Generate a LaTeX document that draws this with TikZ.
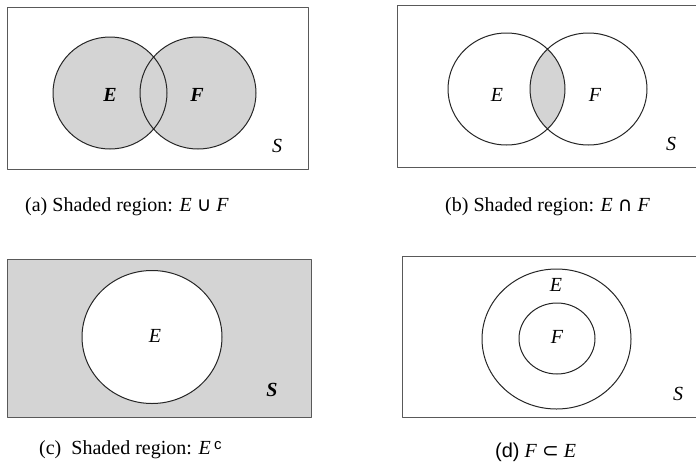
\documentclass[tikz,border=0pt]{standalone}
\usepackage{fontspec}
\setmainfont{Liberation Serif}
\newfontfamily\symfont{DejaVu Sans}
\newfontfamily\capsans{Liberation Sans}
\usetikzlibrary{calc}
\definecolor{venngray}{gray}{0.83}
\definecolor{frameline}{gray}{0.35}

\tikzset{
 frame/.style={draw=frameline,line width=.9pt},
 vennset/.style={draw=black!85,line width=1pt},
 setlabel/.style={font=\fontsize{20}{24}\selectfont\itshape,inner sep=0pt},
 boldlabel/.style={setlabel,font=\fontsize{20}{24}\selectfont\bfseries\itshape},
 caption/.style={font=\fontsize{20}{24}\selectfont,inner sep=0pt,anchor=west}
}

\begin{document}
\begin{tikzpicture}[x=1pt,y=-1pt,line cap=round,line join=round]
 \useasboundingbox (0,0) rectangle (696,464);
 \clip (0,0) rectangle (696,464);
 % (a) union
 \coordinate (aE) at (110,93);
 \coordinate (aF) at (198,93);
 \fill[venngray] (aE) circle[x radius=57pt,y radius=56pt]
  (aF) circle[x radius=58pt,y radius=56pt];
 \draw[frame] (7,7) rectangle (308,169);
 \draw[vennset] (aE) circle[x radius=57pt,y radius=56pt]
  (aF) circle[x radius=58pt,y radius=56pt];
 \node[boldlabel] (aElab) at (110,95) {E};
 \node[boldlabel] (aFlab) at (197,95) {F};
 \node[setlabel] (aS) at (277,146) {S};
 \node[caption] (acap) at (25,207) {(a) Shaded region: \textit{E} {\symfont ∪} \textit{F}};
 % (b) intersection
 \coordinate (bE) at (506.5,89);
 \coordinate (bF) at (588.5,89);
 \begin{scope}
  \clip (bE) circle[x radius=58.5pt,y radius=56pt];
  \fill[venngray] (bF) circle[x radius=58.5pt,y radius=56pt];
 \end{scope}
 \draw[frame] (397,5) rectangle (702,167);
 \draw[vennset] (bE) circle[x radius=58.5pt,y radius=56pt]
  (bF) circle[x radius=58.5pt,y radius=56pt];
 \node[setlabel] (bElab) at (497,95) {E};
 \node[setlabel] (bFlab) at (595,95) {F};
 \node[setlabel] (bS) at (671,144) {S};
 \node[caption] (bcap) at (445,207) {(b) Shaded region: \textit{E} {\symfont ∩} \textit{F}};
 % (c) complement
 \coordinate (cE) at (152,337);
 \fill[venngray] (7,259) rectangle (311,417);
 \fill[white] (cE) circle[x radius=70pt,y radius=66.5pt];
 \draw[frame] (7,259) rectangle (311,417);
 \draw[vennset] (cE) circle[x radius=70pt,y radius=66.5pt];
 \node[setlabel] (cElab) at (155,336) {E};
 \node[boldlabel] (cS) at (272,390) {S};
 \node[caption] (ccap) at (39,450) {(c)\ \ Shaded region: \textit{E}\,\raisebox{.6ex}{\capsans\fontsize{15}{18}\selectfont c}};
 % (d) subset
 \coordinate (dE) at (556.5,339);
 \coordinate (dF) at (557,338.5);
 \draw[frame] (402,256) rectangle (702,417);
 \draw[vennset] (dE) circle[x radius=74.5pt,y radius=70pt]
  (dF) circle[x radius=38pt,y radius=35.5pt];
 \node[setlabel] (dElab) at (556,285) {E};
 \node[setlabel] (dFlab) at (557,337) {F};
 \node[setlabel] (dS) at (678,394) {S};
 \node[caption] (dcap) at (495,452) {{\capsans (d)} \textit{F} {\symfont ⊂} \textit{E}};
\end{tikzpicture}
\end{document}
